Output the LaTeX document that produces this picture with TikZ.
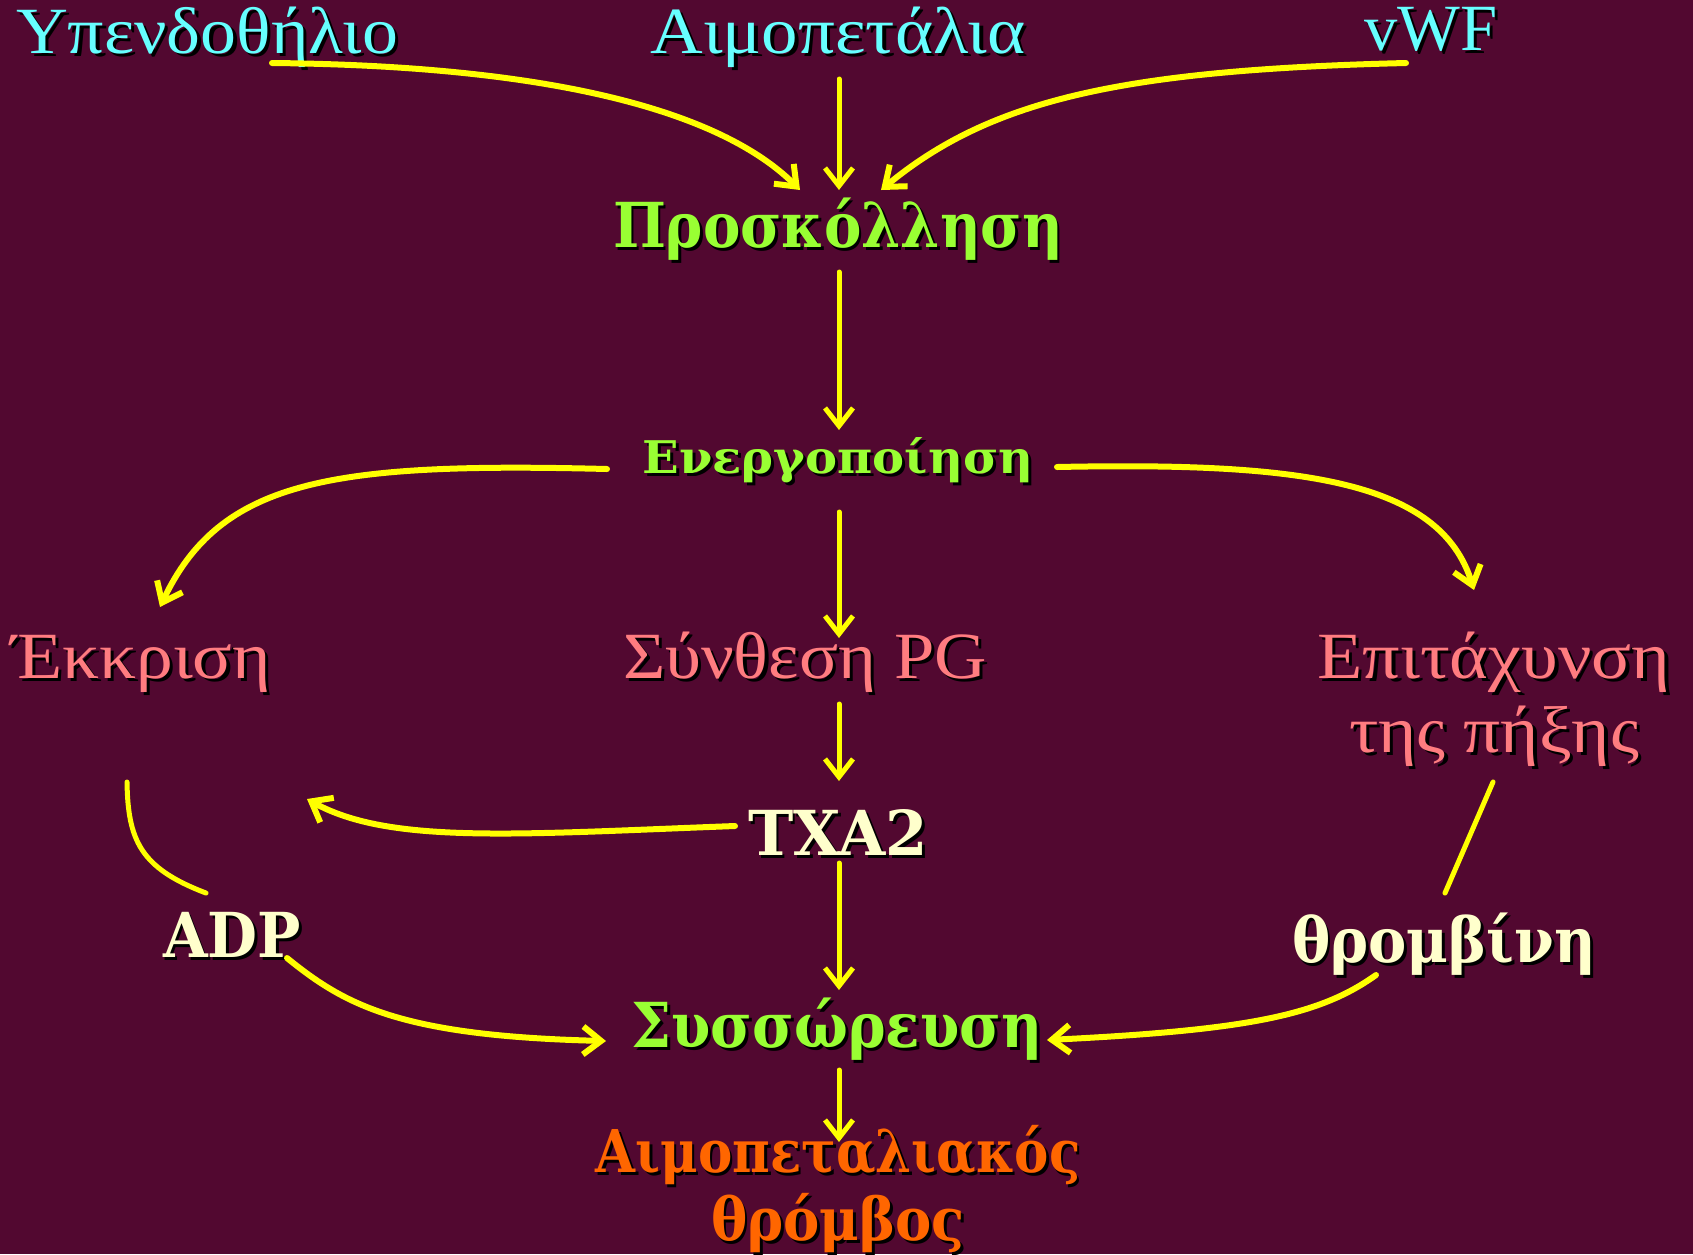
\documentclass[tikz,border=0pt]{standalone}
\usepackage{fontspec}
\setmainfont{Liberation Serif}
\newfontfamily\slab{DejaVu Serif}
\usetikzlibrary{arrows.meta}
\definecolor{bg}{RGB}{82,8,48}
\definecolor{cyanT}{RGB}{102,255,255}
\definecolor{greenT}{RGB}{153,255,51}
\definecolor{salmonT}{RGB}{255,124,128}
\definecolor{creamT}{RGB}{255,255,204}
\definecolor{orangeT}{RGB}{255,102,0}
\definecolor{arrowY}{RGB}{255,255,0}
\newcommand\shd[2]{\rlap{\kern3pt\raisebox{-3pt}{\color{black}#2}}{\color{#1}#2}}
\newcommand\fitw[2]{\resizebox{#1}{\height}{#2}}
\begin{document}
\begin{tikzpicture}[x=1pt,y=-1pt,
  lab/.style={inner sep=0pt, outer sep=0pt, anchor=base},
  reg/.style={lab, font=\fontsize{66}{74}\selectfont},
  bold/.style={lab, font=\slab\bfseries\fontsize{62}{68}\selectfont},
  conn/.style={draw=arrowY, line width=5pt, line cap=round},
  arr/.style={draw=arrowY, line width=6pt, line cap=round, -{Straight Barb[length=18pt,width=28pt]}},
  straight/.style={arr, line width=5pt}]
\fill[bg] (0,0) rectangle (1693,1254);
\useasboundingbox (0,0) rectangle (1693,1254);

% nodes
\node[reg] (ypo) at (207,53) {\fitw{382pt}{\shd{cyanT}{Υπενδοθήλιο}}};
\node[reg] (aim) at (838,53) {\fitw{375pt}{\shd{cyanT}{Αιμοπετάλια}}};
\node[reg] (vwf) at (1431,50) {\fitw{133pt}{\shd{cyanT}{vWF}}};
\node[bold] (pros) at (838,247) {\fitw{450pt}{\shd{greenT}{Προσκόλληση}}};
\node[bold, font=\slab\bfseries\fontsize{45}{50}\selectfont] (energ) at (838,473) {\fitw{391pt}{\shd{greenT}{Ενεργοποίηση}}};
\node[reg] (ekk) at (141,678) {\fitw{260pt}{\shd{salmonT}{Έκκριση}}};
\node[reg] (synth) at (805,678) {\fitw{364pt}{\shd{salmonT}{Σύνθεση PG}}};
\node[reg, align=center] (epit) at (1494,752) {\fitw{353pt}{\shd{salmonT}{Επιτάχυνση}}\\\fitw{290pt}{\shd{salmonT}{της πήξης}}};
\node[bold, font=\slab\bfseries\fontsize{62}{68}\selectfont] (txa) at (838,855) {\fitw{180pt}{\shd{creamT}{TXA2}}};
\node[bold] (adp) at (232,957) {\fitw{138pt}{\shd{creamT}{ADP}}};
\node[bold] (thromb) at (1444,962) {\fitw{304pt}{\shd{creamT}{θρομβίνη}}};
\node[bold] (syss) at (837,1047) {\fitw{411pt}{\shd{greenT}{Συσσώρευση}}};
\node[bold, align=center, font=\slab\bfseries\fontsize{59}{68}\selectfont] (thr) at (838,1240) {\fitw{485pt}{\shd{orangeT}{Αιμοπεταλιακός}}\\\fitw{254pt}{\shd{orangeT}{θρόμβος}}};

% connector end points
\coordinate (ypo-o) at (272,63);
\coordinate (pros-i1) at (800,190);
\coordinate (aim-o) at (839,79);
\coordinate (pros-i2) at (839,190);
\coordinate (vwf-o) at (1406,63);
\coordinate (pros-i3) at (881,190);
\coordinate (pros-o) at (839,272);
\coordinate (energ-i) at (839,430);
\coordinate (energ-ol) at (607,469);
\coordinate (ekk-i) at (160,607);
\coordinate (energ-or) at (1057,467);
\coordinate (epit-i) at (1474,590);
\coordinate (energ-o) at (839,512);
\coordinate (synth-i) at (839,638);
\coordinate (synth-o) at (839,704);
\coordinate (txa-i) at (839,781);
\coordinate (txa-ol) at (735,826);
\coordinate (txa-tgt) at (307,799);
\coordinate (ekk-o) at (127,782);
\coordinate (adp-i) at (206,893);
\coordinate (adp-o) at (287,958);
\coordinate (syss-il) at (606,1041);
\coordinate (txa-o) at (839,863);
\coordinate (syss-it) at (839,990);
\coordinate (epit-o) at (1493,782);
\coordinate (thromb-i) at (1445,893);
\coordinate (thromb-o) at (1376,975);
\coordinate (syss-ir) at (1047,1040);
\coordinate (syss-o) at (839,1070);
\coordinate (thr-i) at (839,1142);

% connectors
\draw[arr] (ypo-o) .. controls (580,66) and (730,120) .. (pros-i1);
\draw[straight] (aim-o) -- (pros-i2);
\draw[arr] (vwf-o) .. controls (1120,70) and (990,100) .. (pros-i3);
\draw[straight] (pros-o) -- (energ-i);
\draw[arr] (energ-ol) .. controls (330,462) and (220,480) .. (ekk-i);
\draw[arr] (energ-or) .. controls (1300,462) and (1440,480) .. (epit-i);
\draw[straight] (energ-o) -- (synth-i);
\draw[straight] (synth-o) -- (txa-i);
\draw[arr] (txa-ol) .. controls (520,834) and (390,845) .. (txa-tgt);
\draw[conn] (ekk-o) .. controls (128,840) and (140,868) .. (adp-i);
\draw[arr] (adp-o) .. controls (345,1005) and (400,1036) .. (syss-il);
\draw[straight] (txa-o) -- (syss-it);
\draw[conn] (epit-o) -- (thromb-i);
\draw[arr] (thromb-o) .. controls (1320,1015) and (1250,1030) .. (syss-ir);
\draw[straight] (syss-o) -- (thr-i);
\end{tikzpicture}
\end{document}
